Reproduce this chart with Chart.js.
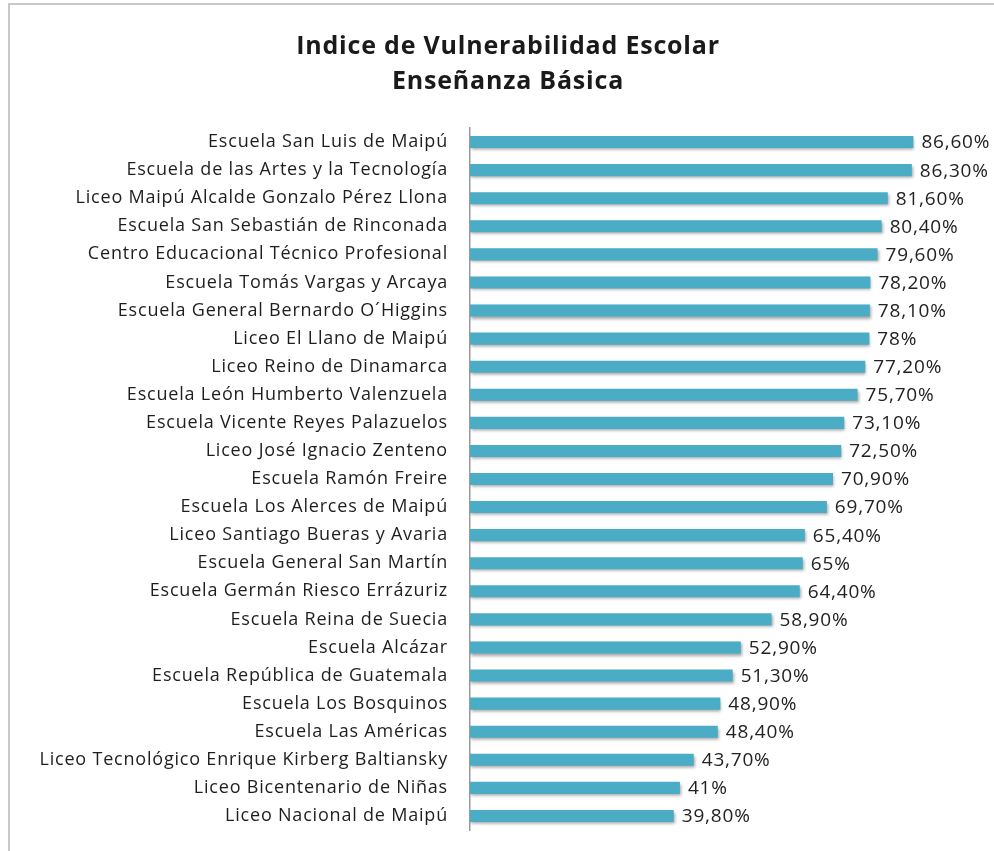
<!DOCTYPE html>
<html>
<head>
<meta charset="utf-8">
<script src="https://cdn.jsdelivr.net/npm/chart.js@4"></script>
<style>
    html, body { margin: 0; padding: 0; background: #fff; }
    #wrap { position: relative; width: 994px; height: 851px; }
    #frame { position: absolute; left: 8px; top: 3px; right: 0; bottom: 0;
             border-left: 2px solid #c8c8c8; border-top: 2px solid #c8c8c8; }
    canvas { position: absolute; left: 0; top: 0; }
</style>
</head>
<body>
<div id="wrap">
    <div id="frame"></div>
    <canvas id="vulnChart" width="994" height="851"></canvas>
</div>
<script>
// Schools and IVE values (%), top to bottom as in the chart
const schools = [
    'Escuela San Luis de Maipú',
    'Escuela de las Artes y la Tecnología',
    'Liceo Maipú Alcalde Gonzalo Pérez Llona',
    'Escuela San Sebastián de Rinconada',
    'Centro Educacional Técnico Profesional',
    'Escuela Tomás Vargas y Arcaya',
    'Escuela General Bernardo O´Higgins',
    'Liceo El Llano de Maipú',
    'Liceo Reino de Dinamarca',
    'Escuela León Humberto Valenzuela',
    'Escuela Vicente Reyes Palazuelos',
    'Liceo José Ignacio Zenteno',
    'Escuela Ramón Freire',
    'Escuela Los Alerces de Maipú',
    'Liceo Santiago Bueras y Avaria',
    'Escuela General San Martín',
    'Escuela Germán Riesco Errázuriz',
    'Escuela Reina de Suecia',
    'Escuela Alcázar',
    'Escuela República de Guatemala',
    'Escuela Los Bosquinos',
    'Escuela Las Américas',
    'Liceo Tecnológico Enrique Kirberg Baltiansky',
    'Liceo Bicentenario de Niñas',
    'Liceo Nacional de Maipú'
];
const ive = [86.6, 86.3, 81.6, 80.4, 79.6, 78.2, 78.1, 78, 77.2, 75.7, 73.1, 72.5, 70.9,
             69.7, 65.4, 65, 64.4, 58.9, 52.9, 51.3, 48.9, 48.4, 43.7, 41, 39.8];
const titleLines = ['Indice de Vulnerabilidad Escolar', 'Enseñanza Básica'];

function fmtPct(v) {
    if (Number.isInteger(v)) return v + '%';
    return v.toFixed(2).replace('.', ',') + '%';
}

// the original text is a bit wider than Open Sans, so space the letters out slightly
const wideText = {
    id: 'wideText',
    beforeDraw(chart) { chart.ctx.letterSpacing = '0.8px'; },
    afterDraw(chart) { chart.ctx.letterSpacing = '0px'; }
};

// soft shadow under the bars, like the original
const barShadow = {
    id: 'barShadow',
    beforeDatasetsDraw(chart) {
        const ctx = chart.ctx;
        ctx.save();
        ctx.shadowColor = 'rgba(0,0,0,0.35)';
        ctx.shadowBlur = 3;
        ctx.shadowOffsetX = 1;
        ctx.shadowOffsetY = 2;
    },
    afterDatasetsDraw(chart) {
        chart.ctx.restore();
    }
};

// value labels at the end of each bar
const valueLabels = {
    id: 'valueLabels',
    afterDatasetsDraw(chart) {
        const ctx = chart.ctx;
        const meta = chart.getDatasetMeta(0);
        ctx.save();
        ctx.font = '19px "Open Sans"';
        ctx.fillStyle = '#222';
        ctx.textAlign = 'left';
        ctx.textBaseline = 'middle';
        meta.data.forEach(function(bar, i) {
            ctx.fillText(fmtPct(ive[i]), bar.x + 8, bar.y + 1);
        });
        ctx.restore();
    }
};

const ctx = document.getElementById('vulnChart').getContext('2d');
const chart = new Chart(ctx, {
    type: 'bar',
    data: {
        labels: schools,
        datasets: [{
            data: ive,
            backgroundColor: '#4bacc6',
            borderWidth: 0,
            barPercentage: 0.86,
            categoryPercentage: 0.5
        }]
    },
    options: {
        indexAxis: 'y',
        responsive: false,
        animation: false,
        layout: {
            padding: { top: 29, right: 12, bottom: 21, left: 34 }
        },
        plugins: {
            legend: { display: false },
            tooltip: { enabled: false },
            title: {
                display: true,
                text: titleLines,
                color: '#1a1a1a',
                font: { family: 'Open Sans', size: 25, weight: 'bold', lineHeight: 1.4 },
                padding: { top: 0, bottom: 29 }
            }
        },
        scales: {
            x: {
                display: false,
                min: 0,
                max: 100
            },
            y: {
                afterFit: function(scale) { scale.width = 436; },
                grid: {
                    display: true,
                    drawOnChartArea: false,
                    drawTicks: true,
                    tickLength: 22,
                    tickColor: 'rgba(0,0,0,0)'
                },
                border: { display: true, color: '#9a9a9a', width: 1.5 },
                ticks: {
                    color: '#1e1e1e',
                    padding: 0,
                    autoSkip: false,
                    font: { family: 'Open Sans', size: 18 }
                }
            }
        }
    },
    plugins: [wideText, barShadow, valueLabels]
});
</script>
</body>
</html>
